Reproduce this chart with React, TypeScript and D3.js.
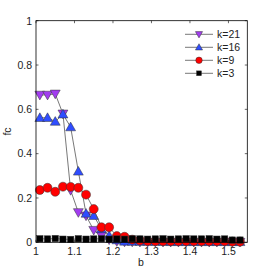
import React from "react";
import * as d3 from "d3";

const bValues = [1.01, 1.03, 1.05, 1.07, 1.09, 1.11, 1.13, 1.15, 1.17, 1.19, 1.21, 1.23, 1.25, 1.27, 1.29, 1.31, 1.33, 1.35, 1.37, 1.39, 1.41, 1.43, 1.45, 1.47, 1.49, 1.51, 1.53];

const k21 = [0.665, 0.665, 0.67, 0.58, 0.235, 0.135, 0.12, 0.055, 0.03, 0.012, 0.004, 0.002, 0.002, 0.001, 0.001, 0.001, 0.001, 0.001, 0.001, 0.001, 0.001, 0.001, 0.001, 0.001, 0.001, 0.001, 0.001];
const k16 = [0.562, 0.562, 0.545, 0.578, 0.52, 0.32, 0.13, 0.12, 0.06, 0.03, 0.01, 0.004, 0.003, 0.003, 0.003, 0.003, 0.003, 0.002, 0.002, 0.002, 0.002, 0.002, 0.002, 0.002, 0.002, 0.002, 0.002];
const k9 = [0.236, 0.246, 0.228, 0.251, 0.25, 0.246, 0.215, 0.15, 0.068, 0.068, 0.028, 0.025, 0.012, 0.008, 0.006, 0.005, 0.005, 0.005, 0.005, 0.005, 0.005, 0.005, 0.005, 0.005, 0.005, 0.003, 0.003];
const k3 = [0.016, 0.015, 0.017, 0.014, 0.013, 0.016, 0.014, 0.015, 0.016, 0.014, 0.015, 0.014, 0.016, 0.015, 0.014, 0.015, 0.016, 0.014, 0.015, 0.016, 0.015, 0.015, 0.016, 0.014, 0.015, 0.01, 0.01];

const xTicks = [1, 1.1, 1.2, 1.3, 1.4, 1.5];
const xTickLabels = ["1", "1.1", "1.2", "1.3", "1.4", "1.5"];
const yTicks = [0, 0.2, 0.4, 0.6, 0.8, 1];
const yTickLabels = ["0", "0.2", "0.4", "0.6", "0.8", "1"];

const seriesNames = ["k=21", "k=16", "k=9", "k=3"];
const seriesData = [k21, k16, k9, k3];
const seriesColors = ["#a23cf0", "#2f4dff", "#ff0000", "#000000"];
const seriesMarkers = ["tri-down", "tri-up", "circle", "square"];

const W = 273, H = 273;
const L = 36, R = 247.3, T = 20.7, B = 242.3;

function Marker({ type, cx, cy, color, s }: { type: string; cx: number; cy: number; color: string; s: number }) {
  const stroke = "#333";
  if (type === "circle") return <circle cx={cx} cy={cy} r={s * 0.5} fill={color} stroke={stroke} strokeWidth={0.5} />;
  if (type === "square") return <rect x={cx - s * 0.4} y={cy - s * 0.4} width={s * 0.8} height={s * 0.8} fill={color} stroke={stroke} strokeWidth={0.5} />;
  const h = s * 0.55;
  if (type === "tri-up") {
    const p = `${cx},${cy - h} ${cx + h},${cy + h * 0.75} ${cx - h},${cy + h * 0.75}`;
    return <polygon points={p} fill={color} stroke={stroke} strokeWidth={0.5} />;
  }
  const p = `${cx},${cy + h} ${cx + h},${cy - h * 0.75} ${cx - h},${cy - h * 0.75}`;
  return <polygon points={p} fill={color} stroke={stroke} strokeWidth={0.5} />;
}

export default function App() {
  const x = d3.scaleLinear().domain([1, 1.549]).range([L, R]);
  const y = d3.scaleLinear().domain([0, 1]).range([B, T]);
  const line = d3.line<number>().x((_, i) => x(bValues[i])).y((v) => y(v));
  const font = "'Liberation Sans', Arial, sans-serif";
  // draw order: k=3 first (bottom) up to k=21? reference shows black on top at bottom
  const order = [0, 1, 2, 3];
  return (
    <svg width={W} height={H} style={{ position: "absolute", left: 0, top: 0, background: "#fff" }}>
      <rect x={0} y={0} width={W} height={H} fill="#fff" />
      {order.map((si) => (
        <g key={si}>
          <path d={line(seriesData[si]) || ""} fill="none" stroke="#555" strokeWidth={0.8} />
          {seriesData[si].map((v, i) => (
            <Marker key={i} type={seriesMarkers[si]} cx={x(bValues[i])} cy={y(v)} color={seriesColors[si]} s={si === 3 ? 8 : 9} />
          ))}
        </g>
      ))}
      <rect x={L} y={T} width={R - L} height={B - T} fill="none" stroke="#000" strokeWidth={0.8} />
      {xTicks.map((t, i) => (
        <g key={"x" + i}>
          <line x1={x(t)} x2={x(t)} y1={B} y2={B - 2.5} stroke="#000" strokeWidth={0.6} />
          <line x1={x(t)} x2={x(t)} y1={T} y2={T + 2.5} stroke="#000" strokeWidth={0.6} />
          <text x={x(t)} y={B + 13} textAnchor="middle" fontFamily={font} fontSize={10.5} fill="#222">{xTickLabels[i]}</text>
        </g>
      ))}
      {yTicks.map((t, i) => (
        <g key={"y" + i}>
          <line x1={L} x2={L + 2.5} y1={y(t)} y2={y(t)} stroke="#000" strokeWidth={0.6} />
          <line x1={R} x2={R - 2.5} y1={y(t)} y2={y(t)} stroke="#000" strokeWidth={0.6} />
          <text x={L - 4} y={y(t) + 3.8} textAnchor="end" fontFamily={font} fontSize={10.5} fill="#222">{yTickLabels[i]}</text>
        </g>
      ))}
      <text x={141} y={266} textAnchor="middle" fontFamily={font} fontSize={10.5} fill="#222">b</text>
      <text transform={`translate(11,${(T + B) / 2}) rotate(-90)`} textAnchor="middle" fontFamily={font} fontSize={10.5} fill="#222">fc</text>
      {seriesNames.map((n, i) => {
        const ly = 34.3 + i * 13;
        return (
          <g key={"l" + i}>
            <line x1={185} x2={213} y1={ly} y2={ly} stroke="#555" strokeWidth={0.8} />
            <Marker type={seriesMarkers[i]} cx={199} cy={ly} color={seriesColors[i]} s={i === 3 ? 6 : 6.5} />
            <text x={217} y={ly + 3.8} fontFamily={font} fontSize={10.5} fill="#222">{n}</text>
          </g>
        );
      })}
    </svg>
  );
}
